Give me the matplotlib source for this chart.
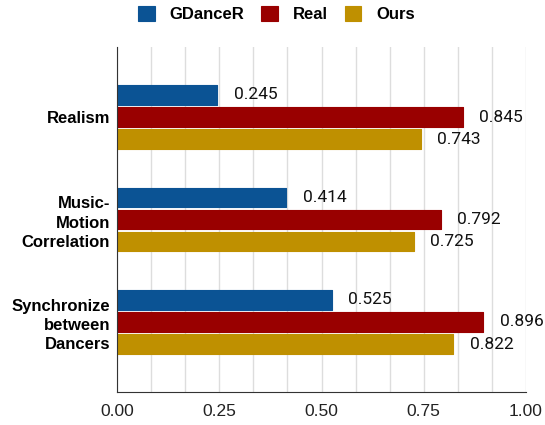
import matplotlib.pyplot as plt
import numpy as np

categories = ["Realism", "Music-\nMotion\nCorrelation", "Synchronize\nbetween\nDancers"]
series = ["GDanceR", "Real", "Ours"]
gdancer = [0.245, 0.414, 0.525]
real = [0.845, 0.792, 0.896]
ours = [0.743, 0.725, 0.822]
colors = ["#0b5394", "#990000", "#bf9000"]

fig = plt.figure(figsize=(5.45, 4.25), dpi=100)
ax = fig.add_axes([117 / 545, 1 - 392 / 425, 409 / 545, 345 / 425])

y = np.arange(len(categories))
step = 0.215
height = 0.19
for i, (name, vals, c) in enumerate(zip(series, [gdancer, real, ours], colors)):
    pos = y + (i - 1) * step
    bars = ax.barh(pos, vals, height=height, color=c, label=name,
                   edgecolor=c, linewidth=0.8, joinstyle="round")
    for b, v in zip(bars, vals):
        ax.text(v + 0.04, b.get_y() + b.get_height() / 2, "%.3f" % v,
                va="center", ha="left", fontsize=12.5, family="Roboto", color="#111111")

ax.set_xlim(0, 1)
ax.set_ylim(2.683, -0.683)
ax.set_yticks(y)
ax.set_yticklabels(categories, fontsize=12, fontweight="bold", family="Liberation Sans",
                   linespacing=1.35, ha="right", multialignment="right")
ax.set_xticks([0, 0.25, 0.5, 0.75, 1.0])
ax.set_xticklabels(["0.00", "0.25", "0.50", "0.75", "1.00"], fontsize=12.5,
                   family="Liberation Sans", color="#222222")
ax.set_xticks(np.arange(1, 12) / 12, minor=True)
ax.tick_params(axis="both", which="both", length=0)
ax.tick_params(axis="x", pad=9)
ax.tick_params(axis="y", pad=5)
ax.grid(axis="x", which="both", color="#dddddd", linewidth=1)
ax.set_axisbelow(True)
for s in ["top", "right"]:
    ax.spines[s].set_visible(False)
ax.spines["left"].set_color("#333333")
ax.spines["bottom"].set_color("#333333")

ax.legend(loc="upper center", bbox_to_anchor=(0.39, 1 + 56 / 345),
          bbox_transform=ax.transAxes, ncol=3, frameon=False,
          prop={"family": "Liberation Sans", "weight": "bold", "size": 12},
          handlelength=1.0, handleheight=1.0, columnspacing=1.0, handletextpad=0.9)

fig.savefig("out.png", dpi=100)
